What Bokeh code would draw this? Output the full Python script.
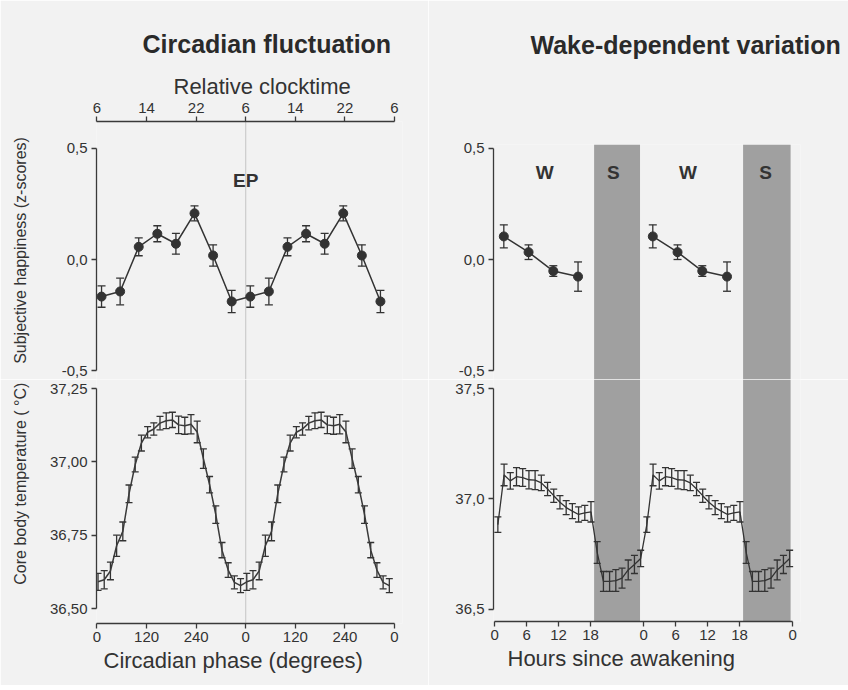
from bokeh.plotting import figure
from bokeh.models import (Range1d, FixedTicker, CustomJSTickFormatter, ColumnDataSource,
                          Whisker, TeeHead, BoxAnnotation, Span, Title)
from bokeh.layouts import row, column
from bokeh.core.properties import value
from bokeh.embed import file_html
from bokeh.resources import INLINE

FONT = "Liberation Sans"
INK = "#333333"
BG = "#f2f2f2"
NBSP = "\u00a0"

# ---------------- data ----------------
# circadian panel (double plotted over two cycles of 360 degrees)
hap_phase = [11, 56, 101, 146, 191, 236, 281, 326]
hap_circ = [-0.167, -0.144, 0.057, 0.116, 0.071, 0.208, 0.018, -0.189]
hap_circ_err = [0.048, 0.060, 0.040, 0.036, 0.047, 0.034, 0.048, 0.050]

temp_phase = [2.5, 17.5, 32.5, 47.5, 62.5, 77.5, 92.5, 107.5, 122.5, 137.5, 152.5, 167.5,
              182.5, 197.5, 212.5, 227.5, 242.5, 257.5, 272.5, 287.5, 302.5, 317.5, 332.5, 347.5]
temp_circ = [36.591, 36.598, 36.628, 36.714, 36.763, 36.891, 36.991, 37.064, 37.101, 37.112,
             37.132, 37.140, 37.143, 37.126, 37.123, 37.128, 37.102, 37.011, 36.922, 36.820,
             36.699, 36.631, 36.589, 36.578]
temp_circ_err = [0.029, 0.031, 0.030, 0.036, 0.032, 0.030, 0.025, 0.027, 0.019, 0.021, 0.023,
                 0.027, 0.026, 0.030, 0.029, 0.033, 0.037, 0.033, 0.028, 0.030, 0.026, 0.025,
                 0.022, 0.024]
cycle_deg = 360

# wake-dependent panel (double plotted over two 28-h days)
hap_hours = [1.7, 6.35, 11.0, 15.65]
hap_wake = [0.104, 0.033, -0.052, -0.077]
hap_wake_err = [0.052, 0.033, 0.024, 0.066]

temp_hours = [0.58, 1.75, 2.92, 4.08, 5.25, 6.42, 7.58, 8.75, 9.92, 11.08, 12.25, 13.42,
              14.58, 15.75, 16.92, 18.08, 19.25, 20.42, 21.58, 22.75, 23.92, 25.08, 26.25, 27.42]
temp_wake = [36.884, 37.109, 37.082, 37.101, 37.097, 37.087, 37.085, 37.073, 37.045, 37.015,
             36.985, 36.961, 36.945, 36.930, 36.937, 36.942, 36.758, 36.627, 36.627, 36.631,
             36.642, 36.679, 36.704, 36.731]
temp_wake_err = [0.035, 0.049, 0.037, 0.041, 0.040, 0.041, 0.043, 0.035, 0.030, 0.030, 0.030,
                 0.032, 0.034, 0.034, 0.034, 0.046, 0.049, 0.045, 0.045, 0.049, 0.045, 0.045,
                 0.041, 0.037]
cycle_h = 28
sleep_start = [18.67, 46.67]
sleep_end = [27.3, 55.6]

zone_labels = ["W", "S", "W", "S"]
zone_hours = [9.4, 22.3, 36.3, 50.9]
zone_level = [0.39, 0.39, 0.39, 0.39]
ep_labels = ["EP"]
ep_phase = [360]
ep_level = [0.357]

# ticks and labels
phase_ticks = [0, 120, 240, 360, 480, 600, 720]
phase_labels = ["0", "120", "240", "0", "120", "240", "0"]
clock_labels = ["6", "14", "22", "6", "14", "22", "6"]
hour_ticks = [0, 6, 12, 18, 28, 34, 40, 46, 56]
hour_labels = ["0", "6", "12", "18", "0", "6", "12", "18", "0"]
hap_ticks = [-0.5, 0.0, 0.5]
hap_labels = ["-0,5", "0,0", "0,5"]
tc_ticks = [36.5, 36.75, 37.0, 37.25]
tc_labels = ["36,50", "36,75", "37,00", "37,25"]
tw_ticks = [36.5, 37.0, 37.5]
tw_labels = ["36,5", "37,0", "37,5"]


def dbl(xs, period):
    return list(xs) + [x + period for x in xs]


def make_fig(w, h, xr, yr, borders, x_loc):
    p = figure(width=w, height=h, x_range=Range1d(*xr), y_range=Range1d(*yr),
               x_axis_location=x_loc, y_axis_location="left",
               toolbar_location=None, output_backend="svg",
               min_border_left=borders[0], min_border_right=borders[1],
               min_border_top=borders[2], min_border_bottom=borders[3],
               background_fill_color=BG, border_fill_color=BG, outline_line_color=None)
    p.grid.visible = False
    return p


def style_axis(ax, ticks, labels, bounds, label=None, label_size="16px", label_standoff=3,
               label_standoff_ticks=3):
    ax.ticker = FixedTicker(ticks=ticks, minor_ticks=[])
    ax.formatter = CustomJSTickFormatter(
        args=dict(tv=ticks, tl=labels),
        code="const i = tv.findIndex((t) => Math.abs(t - tick) < 1e-6); return i >= 0 ? tl[i] : '';")
    ax.bounds = bounds
    ax.axis_line_color = "#3a3a3a"
    ax.axis_line_width = 1.3
    ax.major_tick_line_color = "#3a3a3a"
    ax.major_tick_line_width = 1.3
    ax.major_tick_in = 0
    ax.major_tick_out = 5
    ax.minor_tick_line_color = None
    ax.major_label_text_font = FONT
    ax.major_label_text_font_size = "15px"
    ax.major_label_text_color = INK
    ax.major_label_standoff = label_standoff_ticks
    if label is not None:
        ax.axis_label = label
        ax.axis_label_text_font = FONT
        ax.axis_label_text_font_size = label_size
        ax.axis_label_text_font_style = "normal"
        ax.axis_label_text_color = INK
        ax.axis_label_standoff = label_standoff


def errbars(p, xs, ys, es, head):
    src = ColumnDataSource(dict(x=xs, lo=[y - e for y, e in zip(ys, es)],
                                hi=[y + e for y, e in zip(ys, es)]))
    w = Whisker(base="x", lower="lo", upper="hi", source=src, line_color=INK, line_width=1.3,
                upper_head=TeeHead(size=head, line_color=INK, line_width=1.3),
                lower_head=TeeHead(size=head, line_color=INK, line_width=1.3))
    p.add_layout(w)


def add_title(p, text, offset, standoff, side="above", size="25px", bold=True, valign="bottom"):
    p.add_layout(Title(text=text, align="left", offset=offset, standoff=standoff,
                       vertical_align=valign,
                       text_font=FONT, text_font_size=size,
                       text_font_style="bold" if bold else "normal",
                       text_color="#2a2a2a" if bold else INK), side)


W_L, W_R = 428, 420
H_U, H_L = 379, 306
X_CIRC = (-1.2, 739.4)
X_WAKE = (-0.24, 57.46)

# ---------------- circadian: upper (happiness) ----------------
ul = make_fig(W_L, H_U, X_CIRC, (-0.5405, 0.6216), (96, 26, 121, 0), "above")
style_axis(ul.xaxis[0], phase_ticks, clock_labels, (0, 720), None, "22px", 1, 4)
style_axis(ul.yaxis[0], hap_ticks, hap_labels, (-0.5, 0.5), "Subjective happiness (z-scores)",
           "16px", 30, 4)
add_title(ul, "Relative clocktime", 77, 2, size="22px", bold=False)
add_title(ul, "Circadian fluctuation", 46, 26)
ul.add_layout(Span(location=ep_phase[0], dimension="height", line_color="#c4c4c4",
                   line_width=1, level="underlay"))
hx = dbl(hap_phase, cycle_deg)
hy = hap_circ + hap_circ
he = hap_circ_err + hap_circ_err
ul.line(hx, hy, line_color=INK, line_width=1.5)
errbars(ul, hx, hy, he, 8)
ul.scatter(hx, hy, size=9, fill_color=INK, line_color=INK)
ul.text(x=ep_phase, y=ep_level, text=ep_labels, text_font=value(FONT), text_font_style="bold",
        text_font_size="19px", text_color=INK, text_align="center", text_baseline="middle")

# ---------------- circadian: lower (temperature) ----------------
ll = make_fig(W_L, H_L, X_CIRC, (36.4489, 37.2807), (96, 26, 0, 62), "below")
style_axis(ll.xaxis[0], phase_ticks, phase_labels, (0, 720), None, "22px", 3, 3)
# leading no-break spaces lift the centred label towards the top of the panel, as printed
style_axis(ll.yaxis[0], tc_ticks, tc_labels, (36.5, 37.25),
           NBSP * 8 + "Core body temperature ( °C)", "16px", 18, 4)
add_title(ll, "Circadian phase (degrees)", 7, 6, side="below", size="22px", bold=False,
          valign="top")
ll.add_layout(Span(location=ep_phase[0], dimension="height", line_color="#c4c4c4",
                   line_width=1, level="underlay"))
tx = dbl(temp_phase, cycle_deg)
ty = temp_circ + temp_circ
te = temp_circ_err + temp_circ_err
ll.line(tx, ty, line_color="#3a3a3a", line_width=1.5)
errbars(ll, tx, ty, te, 7)

# ---------------- wake-dependent: upper (happiness) ----------------
ur = make_fig(W_R, H_U, X_WAKE, (-0.5405, 0.518), (65, 48, 144, 0), None)
style_axis(ur.yaxis[0], hap_ticks, hap_labels, (-0.5, 0.5), None, "16px", 3, 4)
ur.add_layout(Title(text=" ", text_font_size="10px", standoff=68), "above")
add_title(ur, "Wake-dependent variation", 37, 10)
for s, e in zip(sleep_start, sleep_end):
    ur.add_layout(BoxAnnotation(left=s, right=e, fill_color="#a0a0a0", fill_alpha=1,
                                line_color=None, level="underlay"))
for k in range(2):
    xs = [h + k * cycle_h for h in hap_hours]
    ur.line(xs, hap_wake, line_color=INK, line_width=1.5)
    errbars(ur, xs, hap_wake, hap_wake_err, 8)
    ur.scatter(xs, hap_wake, size=9, fill_color=INK, line_color=INK)
ur.text(x=zone_hours, y=zone_level, text=zone_labels, text_font=value(FONT),
        text_font_style="bold", text_font_size="19px", text_color=INK,
        text_align="center", text_baseline="middle")

# ---------------- wake-dependent: lower (temperature) ----------------
lr = make_fig(W_R, H_L, X_WAKE, (36.4457, 37.5407), (65, 48, 0, 64), "below")
style_axis(lr.xaxis[0], hour_ticks, hour_labels, (0, 56), None, "22px", 3, 3)
style_axis(lr.yaxis[0], tw_ticks, tw_labels, (36.5, 37.5), None, "16px", 3, 4)
add_title(lr, "Hours since awakening", 14, 6, side="below", size="22px", bold=False,
          valign="top")
for s, e in zip(sleep_start, sleep_end):
    lr.add_layout(BoxAnnotation(left=s, right=e, fill_color="#a0a0a0", fill_alpha=1,
                                line_color=None, level="underlay"))
wx = dbl(temp_hours, cycle_h)
wy = temp_wake + temp_wake
we = temp_wake_err + temp_wake_err
lr.line(wx, wy, line_color=INK, line_width=1.3)
errbars(lr, wx, wy, we, 7)

layout = row(column(ul, ll, spacing=0), column(ur, lr, spacing=0), spacing=0)

with open("out.html", "w") as f:
    f.write(file_html(layout, INLINE))
